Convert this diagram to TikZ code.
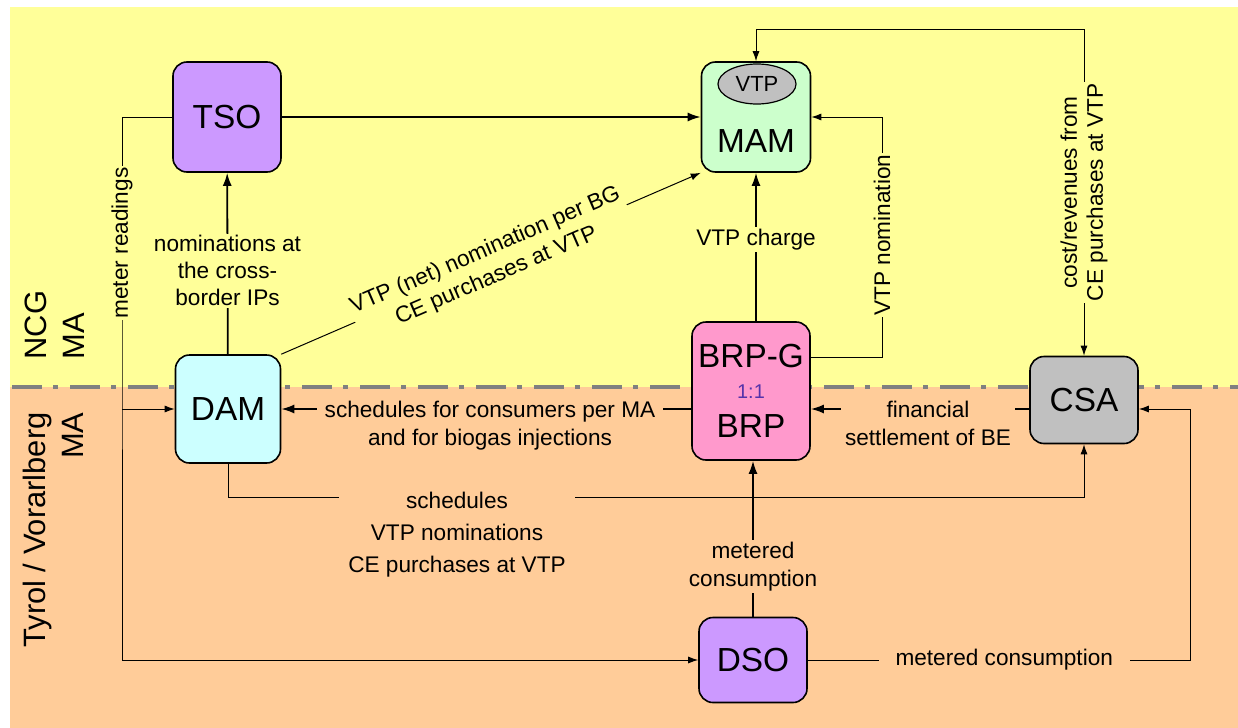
\documentclass[tikz,border=0pt]{standalone}
\usepackage{fontspec}
\setmainfont{Liberation Sans}
\usepackage{tikz}
\usetikzlibrary{arrows.meta,shapes}
\definecolor{ncgyellow}{HTML}{FFFF99}
\definecolor{tyrolorange}{HTML}{FFCC99}
\definecolor{sopurple}{HTML}{CC99FF}
\definecolor{damcyan}{HTML}{CCFFFF}
\definecolor{mamgreen}{HTML}{CCFFCC}
\definecolor{brppink}{HTML}{FF99CC}
\definecolor{csagray}{HTML}{C0C0C0}
\definecolor{divgray}{HTML}{808080}
\definecolor{ratioblue}{HTML}{5533AA}
\newcommand{\boxfont}{\fontsize{33.5}{36}\selectfont}
\newcommand{\lblfont}{\fontsize{22.7}{27}\selectfont}
\newcommand{\sidefont}{\fontsize{31}{38}\selectfont}

\begin{document}
\begin{tikzpicture}[
  box/.style={draw,line width=1.6bp,rounded corners=14bp,inner sep=0pt,font=\boxfont},
  lbl/.style={font=\lblfont,align=center,inner sep=2bp},
  ylbl/.style={lbl,fill=ncgyellow},
  olbl/.style={lbl,fill=tyrolorange},
  thk/.style={line width=1.8bp,>={Latex[length=13bp,width=9bp]},->},
  thn/.style={line width=1bp,>={Latex[length=10bp,width=7bp]},->}]

\useasboundingbox (0bp,0bp) rectangle (1238bp,-728bp);
\fill[ncgyellow] (10bp,-7bp) rectangle (1238bp,-387bp);
\fill[tyrolorange] (10bp,-387bp) rectangle (1238bp,-728bp);
\draw[divgray,line width=4bp,dash pattern=on 30bp off 11bp on 5bp off 12bp] (12bp,-387bp) -- (1238bp,-387bp);

\node (NCG) at (55bp,-325bp)[rotate=90,align=left,font=\sidefont] {NCG\\MA};
\node (TYR) at (53bp,-530bp)[rotate=90,align=right,font=\sidefont] {Tyrol / Vorarlberg\\MA};

\coordinate (MR) at (122bp,-243bp);
\coordinate (MB) at (122bp,-409bp);
\coordinate (VN) at (882bp,-235bp);
\coordinate (CR) at (1084bp,-29bp);
\coordinate (SC) at (1084bp,-497bp);
\coordinate (MC) at (1190bp,-409bp);

\node (TSO) at (227bp,-117bp)[box,fill=sopurple,minimum width=108bp,minimum height=110bp] {TSO};
\node (DAM) at (228bp,-409bp)[box,fill=damcyan,minimum width=105bp,minimum height=108bp] {DAM};
\node (MAM) at (756bp,-117bp)[box,fill=mamgreen,minimum width=109bp,minimum height=110bp] {\raisebox{-35bp}[0pt][0pt]{MAM}};
\node (VTP) at (757bp,-84bp)[ellipse,draw,line width=1.2bp,fill=csagray,minimum width=78bp,minimum height=40bp,inner sep=0pt,font=\fontsize{22}{24}\selectfont] {VTP};
\node (BRP) at (751bp,-391bp)[box,fill=brppink,minimum width=118bp,minimum height=138bp,align=center] {BRP-G\\[-5bp]{\fontsize{20}{20}\selectfont\color{ratioblue}1:1}\\[3bp]BRP};
\node (CSA) at (1084bp,-400bp)[box,fill=csagray,minimum width=108bp,minimum height=87bp] {CSA};
\node (DSO) at (753bp,-660bp)[box,fill=sopurple,minimum width=108bp,minimum height=85bp] {DSO};

\draw[thk] (TSO) -- (MAM);
\draw[thk] (DAM) -- (TSO) node[pos=0.46,ylbl] {nominations at\\the cross-\\border IPs};
\draw[thn] (DAM.north east) -- (MAM.south west) node[pos=0.5,sloped,ylbl,font=\fontsize{22.7}{28}\selectfont] {VTP (net) nomination per BG\\CE purchases at VTP};
\draw[thk] (MAM.south |- BRP.north) -- (MAM.south) node[pos=0.55,ylbl] {VTP charge};
\draw[thn] (BRP.29) -| (VN) node[ylbl,rotate=90] {VTP nomination} |- (MAM.east);
\draw[thn,<->] (MAM.north) |- (CR) -- (CSA.north) node[midway,ylbl,rotate=90,font=\fontsize{22.7}{26}\selectfont] {cost/revenues from\\CE purchases at VTP};
\draw[thn] (MB) -- (DAM.west);
\draw[thn] (TSO.west) -| (MR) node[ylbl,rotate=90] {meter readings} |- (DSO.west);
\draw[thk] (BRP.west |- DAM.east) -- (DAM.east);
\draw[thk] (CSA.west |- MC) -- (BRP.east |- MC);
\draw[thn] (DAM.south) |- (SC) -- (CSA.south);
\draw[thk] (DSO.north) -- (DSO.north |- BRP.south) node[pos=0.32,olbl,font=\fontsize{22.7}{28}\selectfont] {metered\\consumption};
\draw[thn] (DSO.east) -| node[pos=0.257,olbl,inner xsep=17bp] {metered consumption} (MC) -- (CSA.east |- MC);

\node (SCHL) at (490bp,-426bp)[olbl,inner xsep=8bp,font=\fontsize{22.7}{28}\selectfont] {schedules for consumers per MA\\and for biogas injections};
\node (FINL) at (928bp,-423bp)[olbl,inner xsep=4bp,font=\fontsize{22.7}{28}\selectfont] {financial\\settlement of BE};
\node (DCSL) at (457bp,-535bp)[olbl,inner xsep=9bp,font=\fontsize{22.7}{32}\selectfont] {schedules\\VTP nominations\\CE purchases at VTP};
\end{tikzpicture}
\end{document}
